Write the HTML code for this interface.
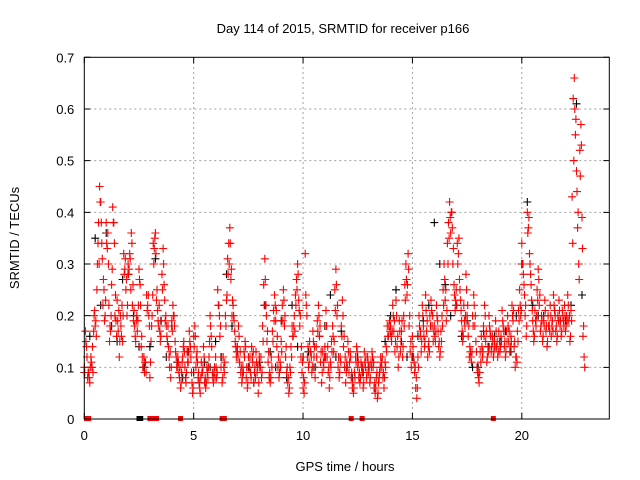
<!DOCTYPE html>
<html><head><meta charset="utf-8">
<style>
html,body{margin:0;padding:0;background:#fff;}
svg{display:block;font-family:"Liberation Sans",sans-serif;}
</style></head>
<body>
<svg id="chart" width="640" height="480" viewBox="0 0 640 480">
<rect width="640" height="480" fill="#fff"/>
<g id="grid"></g>
<g id="ticks"></g>
<g id="marks"></g>
<rect x="84.3" y="57.3" width="525" height="361.7" fill="none" stroke="#000" stroke-width="1"/>
<text x="343" y="33" font-size="13" text-anchor="middle" fill="#000">Day 114 of 2015, SRMTID for receiver p166</text>
<text x="345" y="471" font-size="13" text-anchor="middle" fill="#000">GPS time / hours</text>
<text x="19" y="238" font-size="13" text-anchor="middle" fill="#000" transform="rotate(-90 19 238)">SRMTID / TECUs</text>
</svg>
<script>
const xTicks=[0,5,10,15,20];
const yTicks=[0,0.1,0.2,0.3,0.4,0.5,0.6,0.7];
const yTickLabels=["0","0.1","0.2","0.3","0.4","0.5","0.6","0.7"];
const redStep=0.05;
const redValues=[
0.10,0.17,0.14,0.08,0.09,0.07,0.12,0.10,0.09,0.20,0.18,0.16,0.30,0.38,0.45,0.42,0.34,0.22,0.25,0.20,
0.38,0.33,0.30,0.15,0.17,0.26,0.41,0.38,0.20,0.19,0.23,0.17,0.12,0.20,0.16,0.15,0.32,0.29,0.25,0.20,
0.30,0.29,0.31,0.36,0.22,0.19,0.18,0.15,0.20,0.19,0.29,0.26,0.14,0.12,0.10,0.09,0.11,0.24,0.22,0.20,
0.08,0.15,0.20,0.34,0.33,0.36,0.23,0.21,0.18,0.17,0.16,0.28,0.33,0.26,0.19,0.18,0.15,0.14,0.10,0.08,
0.19,0.22,0.20,0.15,0.12,0.10,0.11,0.08,0.06,0.09,0.12,0.15,0.10,0.07,0.13,0.11,0.17,0.14,0.09,0.05,
0.16,0.18,0.10,0.13,0.08,0.07,0.05,0.11,0.09,0.14,0.07,0.06,0.10,0.08,0.12,0.20,0.16,0.09,0.07,0.10,
0.12,0.08,0.25,0.22,0.16,0.10,0.07,0.12,0.09,0.20,0.23,0.31,0.34,0.37,0.27,0.20,0.22,0.19,0.15,0.12,
0.14,0.18,0.11,0.09,0.07,0.10,0.13,0.15,0.08,0.06,0.12,0.10,0.09,0.14,0.11,0.07,0.10,0.13,0.09,0.05,
0.12,0.10,0.08,0.18,0.26,0.31,0.22,0.15,0.11,0.08,0.07,0.12,0.17,0.21,0.24,0.19,0.14,0.10,0.08,0.11,
0.15,0.22,0.25,0.18,0.12,0.09,0.07,0.05,0.10,0.14,0.18,0.16,0.20,0.24,0.27,0.30,0.23,0.18,0.12,0.09,
0.06,0.05,0.32,0.22,0.12,0.10,0.15,0.13,0.09,0.17,0.12,0.08,0.14,0.19,0.22,0.16,0.11,0.07,0.13,0.10,
0.14,0.21,0.12,0.09,0.06,0.11,0.15,0.18,0.13,0.25,0.29,0.20,0.10,0.08,0.12,0.18,0.23,0.14,0.10,0.07,
0.11,0.15,0.09,0.13,0.08,0.06,0.05,0.09,0.12,0.14,0.10,0.08,0.07,0.11,0.09,0.06,0.13,0.10,0.08,0.12,
0.09,0.07,0.11,0.13,0.10,0.06,0.05,0.08,0.04,0.07,0.09,0.12,0.10,0.08,0.06,0.11,0.14,0.18,0.16,0.19,
0.18,0.15,0.22,0.17,0.13,0.23,0.14,0.10,0.19,0.13,0.17,0.12,0.20,0.26,0.30,0.24,0.32,0.18,0.13,0.10,
0.16,0.12,0.09,0.06,0.04,0.12,0.20,0.16,0.13,0.22,0.18,0.14,0.24,0.17,0.12,0.15,0.20,0.23,0.18,0.15,
0.18,0.15,0.22,0.19,0.14,0.12,0.17,0.20,0.25,0.30,0.23,0.19,0.34,0.38,0.42,0.36,0.40,0.30,0.26,0.21,
0.25,0.34,0.32,0.27,0.23,0.19,0.15,0.22,0.18,0.28,0.20,0.16,0.12,0.13,0.11,0.20,0.24,0.18,0.15,0.10,
0.09,0.07,0.13,0.16,0.12,0.18,0.22,0.15,0.11,0.14,0.20,0.17,0.13,0.16,0.12,0.15,0.19,0.14,0.12,0.17,
0.13,0.16,0.21,0.18,0.14,0.12,0.17,0.20,0.15,0.13,0.16,0.22,0.19,0.14,0.10,0.12,0.17,0.21,0.25,0.20,
0.34,0.30,0.26,0.20,0.16,0.40,0.37,0.32,0.28,0.23,0.19,0.15,0.21,0.18,0.25,0.29,0.22,0.17,0.20,0.15,
0.19,0.23,0.17,0.14,0.20,0.18,0.22,0.16,0.19,0.24,0.21,0.17,0.15,0.20,0.23,0.18,0.16,0.21,0.19,0.22,
0.17,0.20,0.24,0.19,0.15,0.21,0.43,0.62,0.66,0.55,0.48,0.37,0.30,0.52,0.57,0.39,0.16,0.12];
const redOffset=0.025;
const redValues2=[
0.09,0.15,0.12,0.09,0.08,0.10,0.11,0.14,0.17,0.21,0.19,0.25,0.34,0.30,0.42,0.38,0.31,0.27,0.19,0.23,
0.34,0.36,0.22,0.18,0.20,0.29,0.38,0.34,0.24,0.16,0.19,0.21,0.15,0.18,0.22,0.20,0.28,0.31,0.27,0.22,
0.28,0.32,0.25,0.34,0.26,0.21,0.16,0.19,0.17,0.22,0.27,0.22,0.16,0.10,0.12,0.11,0.09,0.21,0.24,0.18,
0.11,0.18,0.24,0.30,0.35,0.32,0.25,0.19,0.22,0.15,0.19,0.25,0.30,0.23,0.20,0.16,0.18,0.12,0.13,0.10,
0.17,0.20,0.18,0.13,0.10,0.12,0.09,0.10,0.07,0.11,0.14,0.13,0.08,0.09,0.11,0.13,0.15,0.12,0.07,0.06,
0.14,0.16,0.12,0.11,0.09,0.06,0.08,0.09,0.10,0.12,0.08,0.07,0.09,0.10,0.15,0.18,0.14,0.08,0.09,0.08,
0.10,0.09,0.22,0.20,0.18,0.12,0.08,0.10,0.11,0.18,0.24,0.28,0.30,0.34,0.29,0.23,0.20,0.17,0.14,0.13,
0.12,0.16,0.13,0.10,0.08,0.09,0.12,0.14,0.10,0.07,0.10,0.12,0.08,0.12,0.13,0.09,0.08,0.11,0.10,0.07,
0.10,0.12,0.09,0.15,0.22,0.27,0.20,0.17,0.13,0.09,0.08,0.10,0.15,0.19,0.22,0.21,0.16,0.12,0.09,0.10,
0.13,0.19,0.23,0.20,0.14,0.10,0.08,0.06,0.09,0.12,0.16,0.18,0.17,0.22,0.25,0.28,0.21,0.20,0.14,0.11,
0.08,0.07,0.24,0.20,0.14,0.11,0.13,0.12,0.10,0.15,0.14,0.10,0.12,0.17,0.20,0.18,0.13,0.09,0.11,0.12,
0.12,0.18,0.14,0.10,0.08,0.10,0.13,0.16,0.15,0.21,0.26,0.22,0.12,0.09,0.11,0.16,0.20,0.16,0.12,0.09,
0.10,0.13,0.11,0.12,0.09,0.07,0.06,0.08,0.11,0.13,0.11,0.09,0.08,0.10,0.10,0.07,0.11,0.12,0.09,0.11,
0.10,0.08,0.10,0.12,0.11,0.07,0.06,0.09,0.05,0.08,0.10,0.11,0.12,0.09,0.08,0.10,0.13,0.16,0.18,0.17,
0.16,0.17,0.20,0.19,0.15,0.20,0.16,0.12,0.17,0.15,0.19,0.14,0.18,0.23,0.27,0.26,0.29,0.20,0.15,0.12,
0.14,0.11,0.10,0.08,0.06,0.10,0.18,0.17,0.15,0.20,0.16,0.15,0.21,0.19,0.14,0.13,0.18,0.21,0.20,0.17,
0.16,0.17,0.20,0.17,0.15,0.13,0.15,0.18,0.22,0.27,0.25,0.21,0.30,0.35,0.39,0.40,0.37,0.33,0.24,0.23,
0.22,0.30,0.35,0.25,0.21,0.17,0.16,0.19,0.20,0.25,0.22,0.18,0.14,0.12,0.13,0.18,0.22,0.20,0.13,0.09,
0.08,0.09,0.11,0.14,0.13,0.16,0.20,0.17,0.12,0.13,0.18,0.16,0.14,0.15,0.13,0.14,0.17,0.15,0.13,0.15,
0.14,0.15,0.19,0.17,0.15,0.13,0.15,0.18,0.17,0.14,0.15,0.20,0.21,0.15,0.12,0.11,0.15,0.19,0.22,0.21,
0.30,0.28,0.24,0.22,0.18,0.36,0.39,0.30,0.26,0.21,0.17,0.16,0.19,0.20,0.23,0.27,0.24,0.18,0.19,0.16,
0.18,0.21,0.18,0.15,0.18,0.17,0.20,0.18,0.17,0.22,0.20,0.18,0.16,0.19,0.21,0.19,0.17,0.20,0.18,0.20,
0.18,0.19,0.22,0.20,0.16,0.19,0.34,0.50,0.60,0.58,0.44,0.40,0.27,0.47,0.53,0.33,0.18,0.10];
const blackStep=0.25;
const blackValues=[0.09,0.16,0.35,0.22,0.36,0.18,0.15,0.27,0.28,0.20,0.14,0.10,0.14,0.31,0.19,0.12,0.18,0.11,0.08,0.13,
0.09,0.07,0.11,0.10,0.15,0.12,0.28,0.18,0.13,0.09,0.10,0.07,0.11,0.22,0.13,0.10,0.19,0.08,0.22,0.14,
0.12,0.13,0.10,0.16,0.18,0.24,0.12,0.17,0.10,0.08,0.12,0.09,0.10,0.06,0.09,0.15,0.20,0.25,0.15,0.12,
0.12,0.16,0.19,0.22,0.38,0.30,0.26,0.20,0.22,0.16,0.19,0.10,0.10,0.17,0.14,0.16,0.15,0.17,0.13,0.20,
0.30,0.42,0.22,0.20,0.20,0.18,0.21,0.19,0.19,0.22,0.61,0.24];
const redZeroHours=[0.1,0.2,3.0,3.1,3.3,4.4,6.3,6.4,12.2,12.7,18.7];
const blackZeroHours=[2.5,2.58];

const NS="http://www.w3.org/2000/svg";
const X0=84.3,X1=609.3,Y0=419,Y1=57.3,XMAX=24,YMAX=0.7;
function xs(v){return X0+(X1-X0)*v/XMAX;}
function ys(v){return Y0-(Y0-Y1)*v/YMAX;}
const grid=document.getElementById('grid'),ticks=document.getElementById('ticks'),marks=document.getElementById('marks');
function el(tag,attrs,parent){const e=document.createElementNS(NS,tag);for(const k in attrs)e.setAttribute(k,attrs[k]);parent.appendChild(e);return e;}
xTicks.forEach(t=>{
  const x=xs(t);
  if(t>0){const g=el('line',{x1:x,x2:x,y1:Y0,y2:Y1,stroke:'#a0a0a0','stroke-dasharray':'2,3'},grid);
  
  }
  const tk=el('path',{d:`M${x} ${Y0}v-6M${x} ${Y1}v6`,stroke:'#000'},ticks);
  
  
  const lb=el('text',{x:x,y:Y0+21,'font-size':13,'text-anchor':'middle',fill:'#000'},ticks);
  lb.textContent=String(t);
  
  
});
yTicks.forEach((t,i)=>{
  const y=ys(t);
  if(t>0&&t<YMAX){const g=el('line',{x1:X0,x2:X1,y1:y,y2:y,stroke:'#a0a0a0','stroke-dasharray':'2,3'},grid);
  
  }
  const tk=el('path',{d:`M${X0} ${y}h6M${X1} ${y}h-6`,stroke:'#000'},ticks);
  
  
  const lb=el('text',{x:X0-10,y:y+5,'font-size':13,'text-anchor':'end',fill:'#000'},ticks);
  lb.textContent=yTickLabels[i];
  
  
});
function plus(vals,step,offset,color,name){
  let d='';
  vals.forEach((v,i)=>{const x=xs(offset+i*step),y=ys(v);d+=`M${(x-4).toFixed(1)} ${y.toFixed(1)}h8M${x.toFixed(1)} ${(y-4).toFixed(1)}v8`;});
  const p=el('path',{d:d,stroke:color,'stroke-width':1.1,fill:'none'},marks);
  
  
}
function zeros(hrs,color,name){
  hrs.forEach(h=>{
    const r=el('rect',{x:xs(h)-2.5,y:ys(0)-3,width:5,height:5,fill:color},marks);
    
    
  });
}
plus(blackValues,blackStep,0,'#000','black-series-points');
zeros(blackZeroHours,'#000','black-zero-point');
plus(redValues,redStep,0,'#ff0000','red-series-points');
plus(redValues2,redStep,redOffset,'#ff0000','red-series-points-extra');
zeros(redZeroHours,'#ff0000','red-zero-point');
</script>
</body></html>
